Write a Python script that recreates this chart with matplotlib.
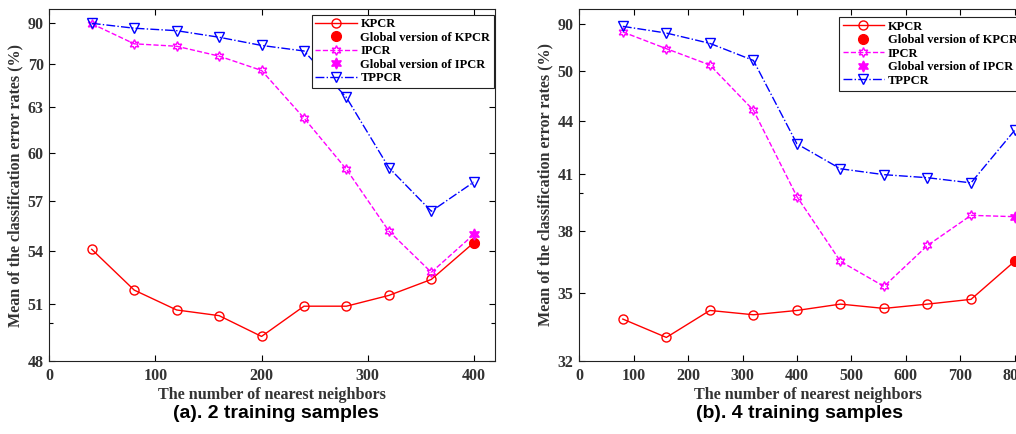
import matplotlib.pyplot as plt
import numpy as np

# ---- data ----
k_a = [40, 80, 120, 160, 200, 240, 280, 320, 360, 400]
kpcr_a = [54.1, 51.8, 50.7, 50.4, 49.3, 50.9, 50.9, 51.5, 52.4, 54.5]
ipcr_a = [89.8, 80.0, 78.8, 74.0, 69.0, 62.3, 59.0, 55.2, 52.8, 55.0]
tppcr_a = [90.0, 87.6, 86.4, 83.2, 79.2, 76.5, 64.6, 59.1, 56.4, 58.2]
glob_kpcr_a = 54.5
glob_ipcr_a = 55.0

k_b = [80, 160, 240, 320, 400, 480, 560, 640, 720, 800]
kpcr_b = [33.85, 33.04, 34.23, 34.04, 34.23, 34.51, 34.32, 34.51, 34.72, 36.53]
ipcr_b = [83.2, 69.0, 55.1, 45.3, 39.8, 36.53, 35.32, 37.3, 38.82, 38.75]
tppcr_b = [88.0, 82.3, 73.5, 59.0, 42.7, 41.28, 40.95, 40.79, 40.52, 43.46]
glob_kpcr_b = 36.53
glob_ipcr_b = 38.75

yticks_a = [48, 51, 54, 57, 60, 63, 70, 90]
yticks_b = [32, 35, 38, 41, 44, 50, 90]

# the y axes of the original use uneven tick spacing; knots give pixel heights
knots_a = ([48, 51, 54, 57, 60, 63, 70, 90, 96.8],
           [0, 56.7, 110, 159.7, 207.7, 253.7, 296.7, 337.7, 351.7])
knots_b = ([32, 35, 38, 41, 44, 50, 90, 102.8],
           [0, 68, 130, 187.3, 240, 290, 337, 352])

serif = 'Liberation Serif'


def make_scale(vals, us):
    vals = np.asarray(vals, float)
    us = np.asarray(us, float)
    s0 = (us[1] - us[0]) / (vals[1] - vals[0])
    s1 = (us[-1] - us[-2]) / (vals[-1] - vals[-2])
    v = np.r_[vals[0] - 1000, vals, vals[-1] + 1000]
    u = np.r_[us[0] - 1000 * s0, us, us[-1] + 1000 * s1]
    return (lambda x: np.interp(x, v, u)), (lambda x: np.interp(x, u, v))


def draw(ax, k, kp, ip, tp, gk, gi, knots, yticks, minor, xlim, xticks):
    ax.set_yscale('function', functions=make_scale(*knots))
    ax.plot(k, kp, '-o', color='red', lw=1, ms=6.5, mfc='none', mew=1, label='KPCR')
    ax.plot(k[-1], gk, 'o', color='red', ms=7, label='Global version of KPCR')
    ax.plot(k[:-1], ip[:-1], '--', color='magenta', lw=1, marker=(6, 1, 0), ms=7,
            mfc='none', mew=1, label='IPCR')
    ax.plot(k[-2:], ip[-2:], '--', color='magenta', lw=1)
    ax.plot(k[-1], gi, ls='none', color='magenta', marker=(6, 1, 0), ms=8,
            label='Global version of IPCR')
    ax.plot(k, tp, '-.', color='blue', lw=1, marker='v', ms=7.5, mfc='none', mew=1,
            label='TPPCR')
    ax.set_xlim(*xlim)
    ax.set_ylim(knots[0][0], knots[0][-1])
    ax.set_xticks(xticks)
    ax.set_yticks(yticks)
    ax.set_yticklabels([str(t) for t in yticks])
    ax.set_yticks(minor, minor=True)
    ax.tick_params(which='both', direction='in', top=True, right=True, width=0.8,
                   labelsize=11.5, pad=4)
    ax.tick_params(which='major', length=4)
    ax.tick_params(which='minor', length=3)
    ax.tick_params(axis='x', pad=5)
    for lab in ax.get_xticklabels() + ax.get_yticklabels():
        lab.set_fontfamily(serif)
        lab.set_fontweight('bold')
        lab.set_color('#333333')
    for s in ax.spines.values():
        s.set_linewidth(0.8)
        s.set_color('#222222')
    ax.set_xlabel('The number of nearest neighbors', fontfamily=serif,
                  fontweight='bold', fontsize=11.6, color='#333333', labelpad=2)
    ax.set_ylabel('Mean of the classification error rates (%)', fontfamily=serif,
                  fontweight='bold', fontsize=11.6, color='#333333', labelpad=3)


fig = plt.figure(figsize=(10.16, 4.34), dpi=100)
W, H = 1016, 434
ax1 = fig.add_axes([49.3 / W, 73 / H, 445.7 / W, 351.7 / H])
ax2 = fig.add_axes([579.3 / W, 73 / H, 457 / W, 352 / H])

draw(ax1, k_a, kpcr_a, ipcr_a, tppcr_a, glob_kpcr_a, glob_ipcr_a, knots_a,
     yticks_a, [50], (0, 420), range(0, 401, 100))
draw(ax2, k_b, kpcr_b, ipcr_b, tppcr_b, glob_kpcr_b, glob_ipcr_b, knots_b,
     yticks_b, [40], (0, 840), range(0, 801, 100))

for ax, anchor in ((ax1, (311.7 / W, 1 - 14.5 / H)), (ax2, (839 / W, 1 - 17 / H))):
    leg = ax.legend(loc='upper left', bbox_to_anchor=anchor,
                    bbox_transform=fig.transFigure, borderaxespad=0,
                    fancybox=False, edgecolor='#222222', framealpha=1,
                    handlelength=3.3, labelspacing=0.12, borderpad=0.3,
                    handletextpad=0.3,
                    prop={'family': serif, 'weight': 'bold', 'size': 9})
    leg.get_frame().set_linewidth(0.8)

fig.text(276 / W, 1 - 413 / H, '(a). 2 training samples', ha='center', va='center',
         fontfamily='Liberation Sans', fontweight='bold', fontsize=14)
fig.text(800 / W, 1 - 413 / H, '(b). 4 training samples', ha='center', va='center',
         fontfamily='Liberation Sans', fontweight='bold', fontsize=14)

fig.savefig('out.png', dpi=100)
